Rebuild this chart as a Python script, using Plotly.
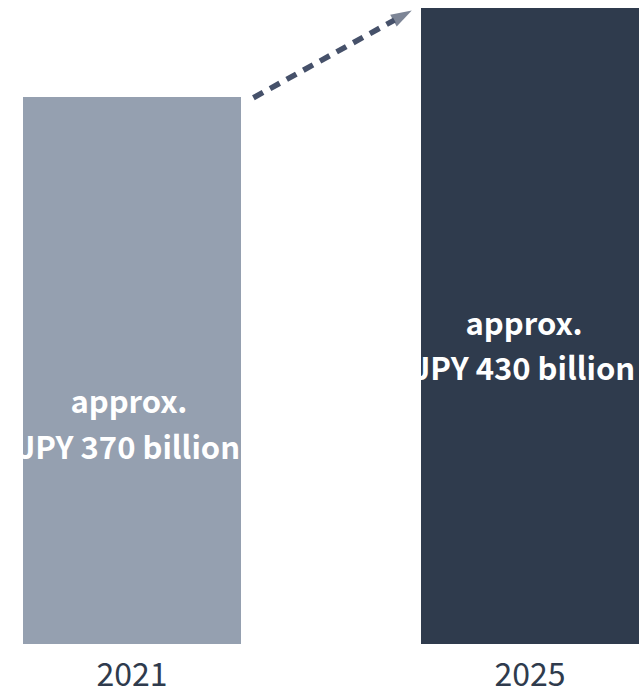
import plotly.graph_objects as go

# Market size by year (JPY billion)
years = ["2021", "2025"]
values = [370, 430]
label_top = ["approx.", "approx."]
label_bottom = ["JPY 370 billion", "JPY 430 billion"]

bar_colors = ["#95a0b0", "#2f3b4d"]
label_height_frac = [0.394, 0.463]   # vertical centre of the in-bar label, as share of bar height
label_x_shift = [-0.008, -0.015]     # small horizontal nudge of each label (axis units)
line_gap = 15.4                      # half the distance between the two label lines (axis units)
bar_width = 0.548
x_pos = [0, 1]

fig = go.Figure()

fig.add_trace(go.Bar(
    x=x_pos, y=values, width=bar_width,
    marker=dict(color=bar_colors, line=dict(width=0)),
    hoverinfo="skip", showlegend=False,
))

# In-bar value labels (two lines), clipped to the plotting area
label_font = dict(family="Noto Sans CJK JP", size=31, color="white", weight="bold")
centers = [v * f for v, f in zip(values, label_height_frac)]
label_x = [x + s for x, s in zip(x_pos, label_x_shift)]
fig.add_trace(go.Scatter(
    x=label_x, y=[c + line_gap for c in centers],
    mode="text", text=label_top, textposition="middle center",
    textfont=label_font, cliponaxis=True, hoverinfo="skip", showlegend=False,
))
fig.add_trace(go.Scatter(
    x=label_x, y=[c - line_gap for c in centers],
    mode="text", text=label_bottom, textposition="middle center",
    textfont=label_font, cliponaxis=True, hoverinfo="skip", showlegend=False,
))

# Dashed growth arrow from the 2021 bar top toward the 2025 bar top
fig.add_trace(go.Scatter(
    x=[0.305, 0.703], y=[values[0] - 0.5, values[1] - 1.5],
    mode="lines+markers",
    line=dict(color="#46516a", width=5.5, dash="11px,8px"),
    marker=dict(symbol=["circle", "arrow"], size=[0, 22], angleref="previous",
                color="#46516a", line=dict(width=0)),
    cliponaxis=False, hoverinfo="skip", showlegend=False,
))

fig.update_layout(
    width=639, height=691,
    margin=dict(l=23, r=0, t=0, b=47),
    paper_bgcolor="white", plot_bgcolor="white",
    xaxis=dict(
        range=[-bar_width / 2, 1 + bar_width / 2],
        tickmode="array", tickvals=x_pos, ticktext=years,
        showgrid=False, zeroline=False, showline=False, ticks="",
        tickfont=dict(family="Noto Sans CJK JP", size=32, color="#2f3b4d"),
        ticklabelstandoff=9, automargin=False,
        fixedrange=True,
    ),
    yaxis=dict(range=[0, 435.6], visible=False, fixedrange=True, automargin=False),
    bargap=0,
)

fig.write_html("out.html")
